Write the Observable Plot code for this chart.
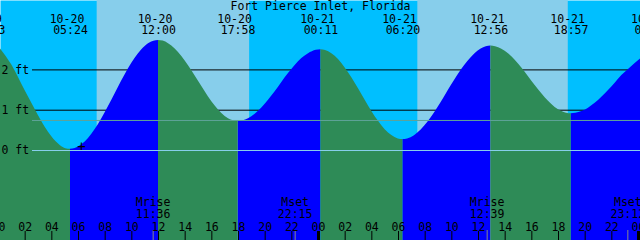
<!DOCTYPE html>
<html><head><meta charset="utf-8">
<script src="https://cdn.jsdelivr.net/npm/d3@7"></script>
<script src="https://cdn.jsdelivr.net/npm/@observablehq/plot@0.6"></script>
<style>
html,body{margin:0;padding:0;background:#fff;}
#chart svg{display:block;}
</style></head><body><div id="chart"></div>
<script>
const title = "Fort Pierce Inlet, Florida";

// Tide curve (hours from 10-20 00:00, feet)
const tideHours = [
  0.15, 1.0, 2.0, 2.78, 3.5, 4.0, 4.65, 5.05, 5.40,
  5.75, 6.25, 6.75, 7.25, 7.75, 8.25, 8.75, 9.25, 9.75, 10.25, 10.75, 11.25, 11.65, 12.00,
  12.35, 12.75, 13.25, 13.75, 14.25, 14.75, 15.25, 15.75, 16.25, 16.75, 17.25, 17.62, 17.97,
  18.32, 18.75, 19.25, 19.75, 20.25, 20.75, 21.25, 21.75, 22.25, 22.75, 23.25, 23.83, 24.18,
  24.53, 25.0, 25.5, 26.0, 26.5, 27.0, 27.5, 28.0, 28.5, 29.0, 29.5, 29.98, 30.33,
  30.68, 31.2, 31.7, 32.2, 32.7, 33.2, 33.7, 34.2, 34.7, 35.2, 35.7, 36.2, 36.58, 36.93,
  37.28, 37.75, 38.25, 38.75, 39.25, 39.75, 40.25, 40.75, 41.25, 41.75, 42.25, 42.60, 42.95,
  43.3, 43.75, 44.25, 44.75, 45.25, 45.75, 46.25, 46.75, 47.25, 47.75, 48.15];
const tideFeet = [
  2.52, 2.12, 1.48, 1.00, 0.58, 0.34, 0.12, 0.045, 0.03,
  0.05, 0.14, 0.30, 0.52, 0.79, 1.09, 1.41, 1.73, 2.03, 2.29, 2.50, 2.65, 2.71, 2.73,
  2.715, 2.65, 2.52, 2.33, 2.10, 1.85, 1.585, 1.33, 1.105, 0.92, 0.79, 0.737, 0.72,
  0.734, 0.79, 0.90, 1.056, 1.25, 1.46, 1.69, 1.91, 2.11, 2.28, 2.40, 2.486, 2.50,
  2.482, 2.40, 2.256, 2.05, 1.805, 1.53, 1.246, 0.97, 0.723, 0.518, 0.37, 0.288, 0.27,
  0.286, 0.368, 0.508, 0.70, 0.93, 1.19, 1.47, 1.74, 1.99, 2.21, 2.39, 2.52, 2.574, 2.59,
  2.576, 2.514, 2.398, 2.24, 2.046, 1.833, 1.615, 1.406, 1.221, 1.07, 0.965, 0.924, 0.91,
  0.922, 0.965, 1.05, 1.17, 1.32, 1.49, 1.67, 1.86, 2.01, 2.16, 2.27];

// High / low labels
const extremeDates = ["10-19", "10-20", "10-20", "10-20", "10-21", "10-21", "10-21", "10-21", "10-22"];
const extremeTimes = ["23:13", "05:24", "12:00", "17:58", "00:11", "06:20", "12:56", "18:57", "01:00"];

// Sun
const sunriseDates = ["10-20", "10-21"];
const sunriseTimes = ["07:24", "07:27"];
const sunsetDates = ["10-20", "10-21"];
const sunsetTimes = ["18:50", "18:44"];

// Moon
const moonEvents = ["Mrise", "Mset", "Mrise", "Mset"];
const moonDates = ["10-20", "10-20", "10-21", "10-21"];
const moonTimes = ["11:36", "22:15", "12:39", "23:12"];

// Levels
const levelTicks = [0, 1, 2];
const levelLabels = ["0 ft", "1 ft", "2 ft"];
const mslFeet = 0.745;

// Hour axis
const hourTicks = [0, 2, 4, 6, 8, 10, 12, 14, 16, 18, 20, 22, 24, 26, 28, 30, 32, 34, 36, 38, 40, 42, 44, 46, 48];
const hourLabels = ["00", "02", "04", "06", "08", "10", "12", "14", "16", "18", "20", "22",
  "00", "02", "04", "06", "08", "10", "12", "14", "16", "18", "20", "22", "00"];

// "+" marker
const markerHour = 6.22;
const markerFeet = 0.1;

// ---------- build ----------
const dayOffset = {"10-19": -24, "10-20": 0, "10-21": 24, "10-22": 48};
function toHours(date, time) {
  const [hh, mm] = time.split(":").map(Number);
  return dayOffset[date] + hh + mm / 60;
}
const extremes = extremeDates.map((d, i) => ({date: d, time: extremeTimes[i], t: toHours(d, extremeTimes[i])}));
const days = sunriseDates.map((d, i) => ({rise: toHours(d, sunriseTimes[i]), set: toHours(sunsetDates[i], sunsetTimes[i])}));
const moon = moonEvents.map((e, i) => ({event: e, time: moonTimes[i], t: toHours(moonDates[i], moonTimes[i])}));

// split the tide into rising / falling runs at the extremes
const rows = [];
let cur = [];
const segs = [];
tideHours.forEach((t, i) => {
  const p = {t, h: tideFeet[i]};
  cur.push(p);
  const isExt = extremes.some(e => Math.abs(e.t - t) < 0.02);
  if (isExt && cur.length > 1) {
    segs.push(cur);
    cur = [p];
  }
});
if (cur.length > 1) segs.push(cur);
segs.forEach((s, k) => {
  const rising = s[s.length - 1].h > s[0].h;
  s.forEach(p => rows.push({t: p.t, h: p.h, seg: k, rising}));
});

const pxPerFt = 40.3;
const yTop = 150 / pxPerFt;
const yBottom = -90 / pxPerFt;

const font = "DejaVu Sans Mono";
const fs = 11.5;

const chart = Plot.plot({
  width: 640,
  height: 240,
  margin: 0,
  x: {domain: [0.15, 48.15], axis: null},
  y: {domain: [yBottom, yTop], axis: null},
  marks: [
    Plot.frame({fill: "#00BFFF", stroke: "none"}),
    Plot.rect(days, {x1: "rise", x2: "set", fill: "#87CEEB"}),
    Plot.ruleY([1, 2], {stroke: "black", insetLeft: 32}),
    Plot.areaY(rows, {filter: d => d.rising, x: "t", y1: () => yBottom, y2: "h", z: "seg", fill: "#0000FF", curve: "monotone-x"}),
    Plot.areaY(rows, {filter: d => !d.rising, x: "t", y1: () => yBottom, y2: "h", z: "seg", fill: "#2E8B57", curve: "monotone-x"}),
    Plot.ruleY([0], {stroke: "#87CEEB", insetLeft: 32}),
    Plot.ruleY([mslFeet], {stroke: "#5FA399", insetLeft: 32}),
    Plot.text(levelTicks, {y: d => d, text: (d, i) => levelLabels[i], frameAnchor: "left", textAnchor: "start", dx: 1, fontFamily: font, fontSize: fs, fill: "black"}),
    Plot.text([markerHour], {x: d => d, y: () => markerFeet, text: () => "+", fontFamily: font, fontSize: 14, fill: "black"}),
    Plot.text([title], {text: d => d, frameAnchor: "top", lineAnchor: "bottom", dy: 9.5, fontFamily: font, fontSize: fs, fill: "black"}),
    Plot.text(extremes, {x: "t", text: "date", frameAnchor: "top", lineAnchor: "bottom", dy: 22, dx: -3.5, fontFamily: font, fontSize: fs, fill: "black"}),
    Plot.text(extremes, {x: "t", text: "time", frameAnchor: "top", lineAnchor: "bottom", dy: 33.5, fontFamily: font, fontSize: fs, fill: "black"}),
    Plot.text(moon, {x: "t", text: "event", frameAnchor: "bottom", lineAnchor: "bottom", dy: -35, fontFamily: font, fontSize: fs, fill: "black"}),
    Plot.text(moon, {x: "t", text: "time", frameAnchor: "bottom", lineAnchor: "bottom", dy: -22.5, fontFamily: font, fontSize: fs, fill: "black"}),
    Plot.ruleX(moon, {x: "t", insetTop: 230, stroke: "#888888"}),
    Plot.ruleX(hourTicks, {x: d => d, insetTop: 231, stroke: "black", strokeWidth: d => d % 24 === 0 ? 3 : 1}),
    Plot.text(hourTicks, {x: d => d, text: (d, i) => hourLabels[i], frameAnchor: "bottom", lineAnchor: "bottom", dy: -10, fontFamily: font, fontSize: fs, fill: "black"})
  ]
});
document.getElementById("chart").appendChild(chart);
</script>
</body></html>
